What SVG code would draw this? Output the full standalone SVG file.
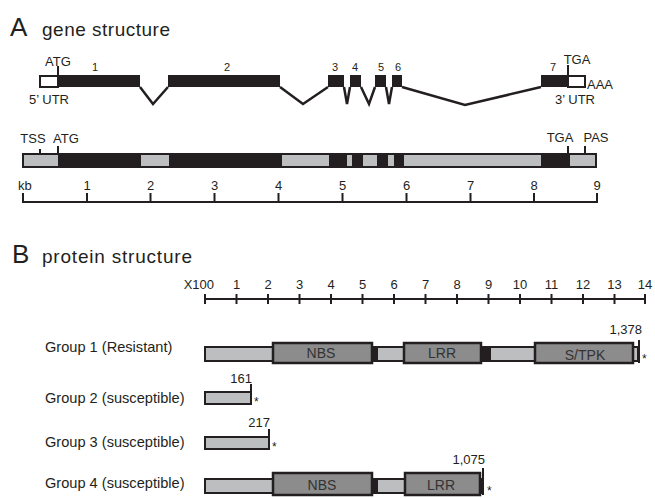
<svg xmlns="http://www.w3.org/2000/svg" width="655" height="498" viewBox="0 0 655 498">
<style>
text{font-family:"Liberation Sans",Arial,sans-serif;fill:#231f20}
.title{font-size:26px}
.sub{font-size:19px}
.lab{font-size:13px}
.num{font-size:11px}
.ast{font-size:12px}
.grp{font-size:14.6px}
.dom{font-size:14px;fill:#333;text-anchor:middle}
.mid{text-anchor:middle}
.end{text-anchor:end}
.blk{fill:#231f20}
.utr{fill:#fff;stroke:#231f20;stroke-width:2}
.ln{stroke:#231f20;stroke-width:2;fill:none}
.intron{stroke:#231f20;stroke-width:2.5;fill:none;stroke-linejoin:miter}
.lg{fill:#bcbec0;stroke:#231f20;stroke-width:2}
.dg{fill:#8c8c8c;stroke:#231f20;stroke-width:2.5}
.lgf{fill:#bcbec0}
</style>

<!-- Section A titles -->
<text class="title" x="10" y="36">A</text>
<text class="sub" x="42" y="36" textLength="128" lengthAdjust="spacing">gene structure</text>

<!-- Exon/intron model -->
<g id="gene-model">
  <rect class="utr" x="40" y="76" width="18" height="11"/>
  <rect class="blk" x="58" y="75" width="82" height="12"/>
  <rect class="blk" x="168" y="75" width="112" height="12"/>
  <rect class="blk" x="328" y="75" width="16" height="12"/>
  <rect class="blk" x="350" y="75" width="11" height="12"/>
  <rect class="blk" x="375" y="75" width="11" height="12"/>
  <rect class="blk" x="392" y="75" width="10" height="12"/>
  <rect class="blk" x="541" y="75" width="27" height="12"/>
  <rect class="utr" x="568" y="76" width="17" height="11"/>
  <line class="ln" x1="58" y1="66" x2="58" y2="76"/>
  <line class="ln" x1="568" y1="65" x2="568" y2="76"/>
  <text class="lab" x="58" y="66" text-anchor="middle">ATG</text>
  <text class="lab" x="577" y="64" text-anchor="middle">TGA</text>
  <text class="lab" x="587" y="89">AAA</text>
  <text class="lab" x="49" y="104" text-anchor="middle">5’ UTR</text>
  <text class="lab" x="575" y="104" text-anchor="middle">3’ UTR</text>
  <text class="num mid" x="95" y="71">1</text>
  <text class="num mid" x="227" y="71">2</text>
  <text class="num mid" x="335" y="71">3</text>
  <text class="num mid" x="355" y="71">4</text>
  <text class="num mid" x="381" y="71">5</text>
  <text class="num mid" x="398" y="71">6</text>
  <text class="num mid" x="553" y="71">7</text>
</g>

<g id="introns">
  <polyline class="intron" points="140,87 153,104 168,87"/>
  <polyline class="intron" points="280,87 303,104 328,87"/>
  <polyline class="intron" points="344,87 347,104 350,87"/>
  <polyline class="intron" points="361,87 369,104 375,87"/>
  <polyline class="intron" points="386,87 389,104 392,87"/>
  <polyline class="intron" points="402,87 465,105 541,87"/>
</g>

<!-- Genomic bar -->
<g id="genomic-bar">
  <rect class="lgf" x="23" y="154" width="573" height="13"/>
  <rect class="blk" x="58" y="154" width="83" height="13"/>
  <rect class="blk" x="169" y="154" width="113" height="13"/>
  <rect class="blk" x="329" y="154" width="18" height="13"/>
  <rect class="blk" x="352" y="154" width="11" height="13"/>
  <rect class="blk" x="377" y="154" width="11" height="13"/>
  <rect class="blk" x="394" y="154" width="10" height="13"/>
  <rect class="blk" x="541" y="154" width="29" height="13"/>
  <rect x="23" y="154" width="573" height="13" fill="none" stroke="#231f20" stroke-width="2"/>
  <line class="ln" x1="40" y1="149" x2="40" y2="154"/>
  <line class="ln" x1="58" y1="146" x2="58" y2="154"/>
  <line class="ln" x1="568" y1="146" x2="568" y2="154"/>
  <line class="ln" x1="585" y1="146" x2="585" y2="154"/>
  <text class="lab mid" x="33" y="143">TSS</text>
  <text class="lab mid" x="66" y="143">ATG</text>
  <text class="lab mid" x="560" y="142">TGA</text>
  <text class="lab mid" x="596" y="142">PAS</text>
</g>

<!-- kb ruler -->
<g id="kb-ruler">
  <line class="ln" x1="23" y1="202" x2="598" y2="202"/>
  <path class="ln" d="M23,193V203M87,193V203M150.5,193V203M214.5,193V203M278.5,193V203M342.5,193V203M406.5,193V203M470.5,193V203M534,193V203M597,193V203"/>
  <text class="lab" x="18" y="190">kb</text>
  <text class="lab mid" x="87" y="190">1</text>
  <text class="lab mid" x="150.5" y="190">2</text>
  <text class="lab mid" x="214.5" y="190">3</text>
  <text class="lab mid" x="278.5" y="190">4</text>
  <text class="lab mid" x="342.5" y="190">5</text>
  <text class="lab mid" x="406.5" y="190">6</text>
  <text class="lab mid" x="470.5" y="190">7</text>
  <text class="lab mid" x="534" y="190">8</text>
  <text class="lab mid" x="597" y="190">9</text>
</g>

<!-- Section B titles -->
<text class="title" x="12" y="263">B</text>
<text class="sub" x="42" y="263" textLength="150" lengthAdjust="spacing">protein structure</text>

<!-- aa ruler -->
<g id="aa-ruler">
  <line class="ln" x1="205" y1="299" x2="645" y2="299"/>
  <path class="ln" d="M205,294V304M236.5,294V304M268,294V304M299.5,294V304M331,294V304M362.5,294V304M394,294V304M425.5,294V304M457,294V304M488.5,294V304M520,294V304M551.5,294V304M583,294V304M614.5,294V304M645,294V304"/>
  <text class="lab end" x="214" y="289">X100</text>
  <text class="lab mid" x="236.5" y="289">1</text>
  <text class="lab mid" x="268" y="289">2</text>
  <text class="lab mid" x="299.5" y="289">3</text>
  <text class="lab mid" x="331" y="289">4</text>
  <text class="lab mid" x="362.5" y="289">5</text>
  <text class="lab mid" x="394" y="289">6</text>
  <text class="lab mid" x="425.5" y="289">7</text>
  <text class="lab mid" x="457" y="289">8</text>
  <text class="lab mid" x="488.5" y="289">9</text>
  <text class="lab mid" x="520" y="289">10</text>
  <text class="lab mid" x="551.5" y="289">11</text>
  <text class="lab mid" x="583" y="289">12</text>
  <text class="lab mid" x="614.5" y="289">13</text>
  <text class="lab mid" x="645" y="289">14</text>
</g>

<!-- Group 1 -->
<g id="group1">
  <text class="grp" x="45" y="352">Group 1 (Resistant)</text>
  <rect class="lg" x="205" y="347" width="433" height="14"/>
  <rect class="blk" x="372" y="346" width="6" height="16"/>
  <rect class="blk" x="481" y="346" width="10" height="16"/>
  <rect class="dg" x="273" y="343" width="99" height="20"/>
  <rect class="dg" x="404" y="343" width="77" height="20"/>
  <rect class="dg" x="535" y="343" width="98" height="20"/>
  <line class="ln" x1="639" y1="340" x2="639" y2="363"/>
  <text class="dom" x="321" y="358">NBS</text>
  <text class="dom" x="442" y="358">LRR</text>
  <text class="dom" x="585" y="360">S/TPK</text>
  <text class="lab end" x="642" y="334">1,378</text>
  <text class="ast" x="642" y="363">*</text>
</g>

<!-- Group 2 -->
<g id="group2">
  <text class="grp" x="45" y="403">Group 2 (susceptible)</text>
  <rect class="lg" x="205" y="392" width="46" height="12"/>
  <line class="ln" x1="251" y1="384" x2="251" y2="405"/>
  <text class="lab end" x="252" y="383">161</text>
  <text class="ast" x="254" y="406">*</text>
</g>

<!-- Group 3 -->
<g id="group3">
  <text class="grp" x="45" y="447">Group 3 (susceptible)</text>
  <rect class="lg" x="205" y="437" width="64" height="12"/>
  <line class="ln" x1="269" y1="429" x2="269" y2="450"/>
  <text class="lab end" x="270" y="427">217</text>
  <text class="ast" x="272" y="451">*</text>
</g>

<!-- Group 4 -->
<g id="group4">
  <text class="grp" x="45" y="488">Group 4 (susceptible)</text>
  <rect class="lg" x="205" y="479" width="277" height="14"/>
  <rect class="blk" x="372" y="478" width="6" height="16"/>
  <rect class="dg" x="273" y="473" width="99" height="22"/>
  <rect class="dg" x="405" y="473" width="75" height="22"/>
  <line class="ln" x1="483" y1="468" x2="483" y2="495"/>
  <text class="dom" x="322" y="490">NBS</text>
  <text class="dom" x="441" y="490">LRR</text>
  <text class="lab end" x="485" y="464">1,075</text>
  <text class="ast" x="487" y="495">*</text>
</g>
</svg>
